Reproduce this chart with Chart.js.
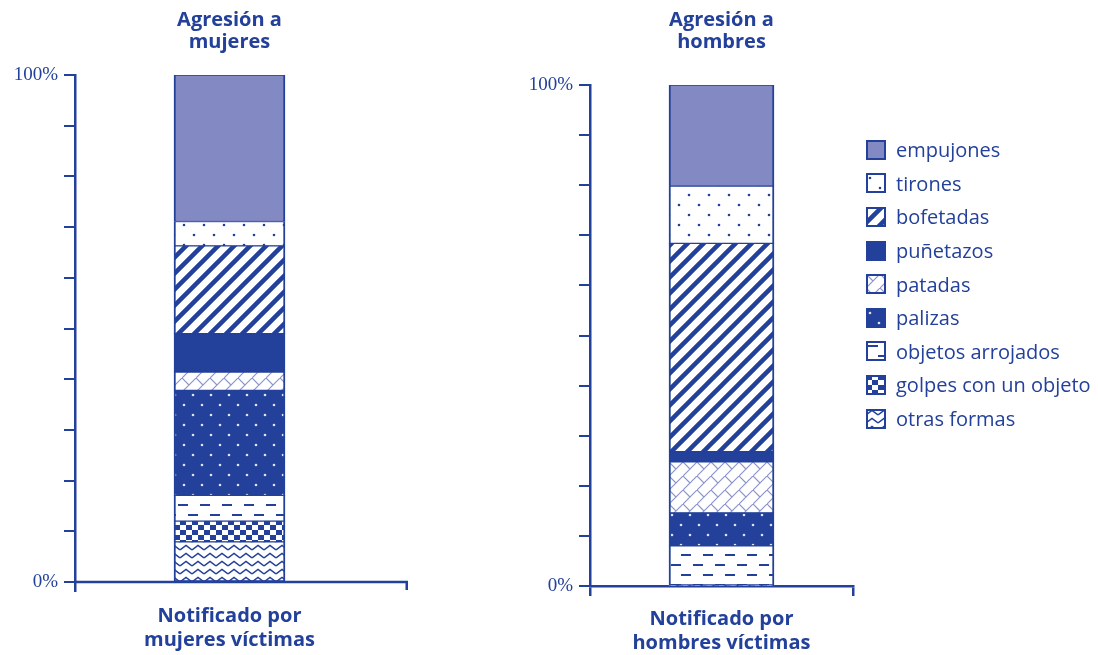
<!DOCTYPE html>
<html>
<head>
<meta charset="utf-8">
<script src="https://cdn.jsdelivr.net/npm/chart.js@4.4.1/dist/chart.umd.min.js"></script>
<style>
  body { margin: 0; width: 1098px; height: 655px; background: #fff; position: relative; overflow: hidden; font-family: "Open Sans", sans-serif; }
  #wrapA { position: absolute; left: 0; top: 0; }
  #wrapB { position: absolute; left: 515px; top: 0; }
  #legend { position: absolute; left: 866px; top: 133px; }
  .row { display: flex; align-items: center; height: 33.6px; }
  .row canvas { width: 20px; height: 20px; margin-right: 10px; }
  .row span { font-size: 20px; color: #23409a; white-space: nowrap; }
</style>
</head>
<body>
<div id="wrapA"><canvas id="chartA" width="430" height="655"></canvas></div>
<div id="wrapB"><canvas id="chartB" width="345" height="655"></canvas></div>
<div id="legend"></div>

<script>
// ===== data =====
const categories = [
  "empujones",
  "tirones",
  "bofetadas",
  "puñetazos",
  "patadas",
  "palizas",
  "objetos arrojados",
  "golpes con un objeto",
  "otras formas",
];
// percent of each victim group, read top to bottom of the bars
const mujeres = [28.9, 4.8, 17.3, 7.6, 3.6, 20.7, 5.1, 4.1, 7.9];
const hombres = [20.2, 11.4, 41.6, 2.0, 10.2, 6.6, 8.0, 0, 0];
const yTickLabels = ["0%", "100%"];
const titleA = ["Agresión a", "mujeres"];
const titleB = ["Agresión a", "hombres"];
const xTitleA = ["Notificado por", "mujeres víctimas"];
const xTitleB = ["Notificado por", "hombres víctimas"];

const BLUE = "#23409a";
const LIGHT = "#8289c3";

// ===== fill patterns =====
function tile(w, h, draw) {
  const c = document.createElement("canvas");
  c.width = w;
  c.height = h;
  const g = c.getContext("2d");
  draw(g);
  return g.createPattern(c, "repeat");
}

function dot(g, x, y, r) {
  g.beginPath();
  g.arc(x, y, r, 0, Math.PI * 2);
  g.fill();
}

const fills = [
  LIGHT,
  tile(20, 20, (g) => {
    g.fillStyle = "#fff"; g.fillRect(0, 0, 20, 20);
    g.fillStyle = BLUE;
    dot(g, 4, 5, 1.3); dot(g, 14, 15, 1.3);
  }),
  tile(16, 16, (g) => {
    g.fillStyle = "#fff"; g.fillRect(0, 0, 16, 16);
    g.strokeStyle = BLUE; g.lineWidth = 4.5;
    g.beginPath();
    g.moveTo(-4, 20); g.lineTo(20, -4);
    g.moveTo(-4, 4); g.lineTo(4, -4);
    g.moveTo(12, 20); g.lineTo(20, 12);
    g.stroke();
  }),
  BLUE,
  tile(14, 14, (g) => {
    g.fillStyle = "#fff"; g.fillRect(0, 0, 14, 14);
    g.strokeStyle = "#8c95cc"; g.lineWidth = 1.2;
    g.beginPath();
    g.moveTo(0, 14); g.lineTo(14, 0);
    g.moveTo(0, 0); g.lineTo(7, 7);
    g.stroke();
  }),
  tile(18, 20, (g) => {
    g.fillStyle = BLUE; g.fillRect(0, 0, 18, 20);
    g.fillStyle = "#dfe3f3";
    dot(g, 4, 5, 1.3); dot(g, 13, 15, 1.3);
  }),
  tile(22, 20, (g) => {
    g.fillStyle = "#fff"; g.fillRect(0, 0, 22, 20);
    g.strokeStyle = BLUE; g.lineWidth = 2;
    g.beginPath();
    g.moveTo(2, 5); g.lineTo(12, 5);
    g.moveTo(12, 15); g.lineTo(22, 15);
    g.stroke();
  }),
  tile(12, 10, (g) => {
    g.fillStyle = "#fff"; g.fillRect(0, 0, 12, 10);
    g.fillStyle = BLUE;
    g.fillRect(0, 0, 6, 5); g.fillRect(6, 5, 6, 5);
  }),
  tile(12, 8, (g) => {
    g.fillStyle = "#fff"; g.fillRect(0, 0, 12, 8);
    g.strokeStyle = BLUE; g.lineWidth = 1.5;
    g.beginPath();
    g.moveTo(0, 6); g.lineTo(6, 1.5); g.lineTo(12, 6);
    g.stroke();
  }),
];

// ===== titles + extended x axis =====
const AXIS_W = 2.5;
const axisExtras = {
  id: "axisExtras",
  afterDraw(chart, args, opts) {
    const { ctx, chartArea } = chart;
    ctx.save();
    ctx.fillStyle = BLUE;
    ctx.font = "bold 20px 'Open Sans'";
    ctx.textAlign = "center";
    ctx.textBaseline = "middle";
    const cx = (chartArea.left + chartArea.right) / 2;
    opts.title.forEach((t, i) => ctx.fillText(t, cx, 20 + i * 22));
    if (opts.extend) {
      // base line drawn here (chart.js border is off) so it runs past the plot area
      const y = chartArea.bottom;
      const xr = chartArea.right + opts.extend;
      ctx.strokeStyle = BLUE;
      ctx.lineWidth = AXIS_W;
      ctx.beginPath();
      ctx.moveTo(chartArea.left, y);
      ctx.lineTo(xr, y);
      ctx.moveTo(xr - AXIS_W / 2, y);
      ctx.lineTo(xr - AXIS_W / 2, y + 8);
      ctx.stroke();
    }
    ctx.restore();
  },
};

function buildChart(id, values, o) {
  const datasets = categories
    .map((name, i) => ({
      label: name,
      data: [values[i]],
      backgroundColor: fills[i],
      borderColor: BLUE,
      borderWidth: (ctx) => (ctx.raw > 0 ? { left: 2, right: 2, top: 1, bottom: 1 } : 0),
      borderSkipped: false,
    }))
    .reverse();

  return new Chart(document.getElementById(id), {
    type: "bar",
    data: { labels: [o.xTitle.join(" ")], datasets: datasets },
    options: {
      responsive: false,
      animation: false,
      layout: { padding: { top: o.top, right: o.right, bottom: o.bottom, left: 0 } },
      datasets: { bar: { barThickness: o.barWidth } },
      plugins: {
        legend: { display: false },
        tooltip: { enabled: false },
        axisExtras: { title: o.title, extend: o.extend },
      },
      scales: {
        x: {
          stacked: true,
          ticks: { display: false },
          grid: {
            drawOnChartArea: false,
            tickLength: 10,
            lineWidth: AXIS_W,
            color: (ctx) => (ctx.type === "tick" || !o.extend ? BLUE : "rgba(0,0,0,0)"),
          },
          border: { display: !o.extend, color: BLUE, width: AXIS_W },
          title: {
            display: true,
            text: o.xTitle,
            color: BLUE,
            font: { family: "Open Sans", size: 20, weight: "bold", lineHeight: 1.2 },
            padding: { top: o.xTitlePad, bottom: 0 },
          },
        },
        y: {
          stacked: true,
          min: 0,
          max: 100,
          afterFit: (s) => { s.width = 75; },
          ticks: {
            stepSize: 10,
            padding: 6,
            color: BLUE,
            font: { family: "Liberation Serif", size: 19 },
            callback: (v) => (v === 0 ? yTickLabels[0] : v === 100 ? yTickLabels[1] : ""),
          },
          grid: { drawOnChartArea: false, tickLength: 11, lineWidth: 2, color: BLUE },
          border: { color: BLUE, width: AXIS_W },
        },
      },
    },
    plugins: [axisExtras],
  });
}

buildChart("chartA", mujeres, {
  title: titleA, xTitle: xTitleA, top: 75, right: 46, bottom: 3, xTitlePad: 12, barWidth: 111, extend: 24,
});
buildChart("chartB", hombres, {
  title: titleB, xTitle: xTitleB, top: 85, right: 7, bottom: 0, xTitlePad: 11, barWidth: 105, extend: 0,
});

// ===== legend =====
const legend = document.getElementById("legend");
categories.forEach((name, i) => {
  const row = document.createElement("div");
  row.className = "row";
  const sw = document.createElement("canvas");
  sw.width = 20;
  sw.height = 20;
  const g = sw.getContext("2d");
  g.fillStyle = fills[i];
  g.fillRect(0, 0, 20, 20);
  g.strokeStyle = BLUE;
  g.lineWidth = 2;
  g.strokeRect(1, 1, 18, 18);
  const txt = document.createElement("span");
  txt.appendChild(document.createTextNode(name));
  row.appendChild(sw);
  row.appendChild(txt);
  legend.appendChild(row);
});
</script>
</body>
</html>
